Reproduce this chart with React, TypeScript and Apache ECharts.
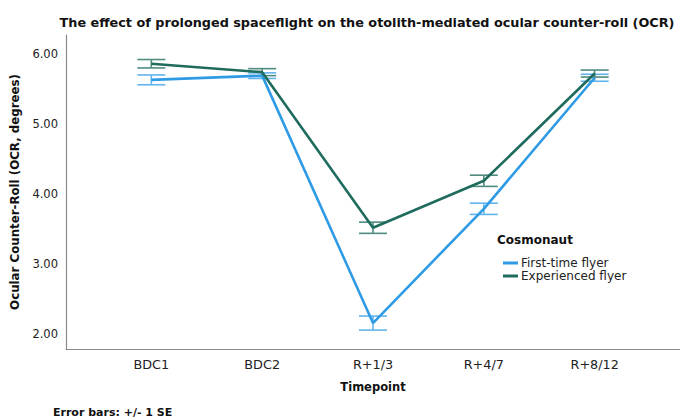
import React, { useEffect, useRef } from "react";
import * as echarts from "echarts";

const categories = ["BDC1", "BDC2", "R+1/3", "R+4/7", "R+8/12"];
const firstTimeMean = [5.63, 5.69, 2.16, 3.79, 5.66];
const firstTimeSE = [0.07, 0.04, 0.1, 0.08, 0.05];
const experiencedMean = [5.86, 5.74, 3.52, 4.19, 5.72];
const experiencedSE = [0.06, 0.05, 0.08, 0.08, 0.05];
const yTicks = [2, 3, 4, 5, 6];

const BLUE = "#2f9be4";
const GREEN = "#1f6b5d";
const BLUE_BAR = "#62b4ec";
const GREEN_BAR = "#4f8c80";
const FONT = "DejaVu Sans";

function errorSeries(name: string, mean: number[], se: number[], color: string) {
  return {
    type: "custom",
    name: name + " SE",
    z: 1,
    silent: true,
    renderItem: (params: any, api: any) => {
      const x = api.value(0);
      const lo = api.coord([x, api.value(1)]);
      const hi = api.coord([x, api.value(2)]);
      const w = 14;
      const style = { stroke: color, lineWidth: 1.6 };
      return {
        type: "group",
        children: [
          { type: "line", shape: { x1: lo[0], y1: lo[1], x2: hi[0], y2: hi[1] }, style },
          { type: "line", shape: { x1: lo[0] - w, y1: lo[1], x2: lo[0] + w, y2: lo[1] }, style },
          { type: "line", shape: { x1: hi[0] - w, y1: hi[1], x2: hi[0] + w, y2: hi[1] }, style },
        ],
      };
    },
    encode: { x: 0, y: [1, 2] },
    data: mean.map((m, i) => [i, m - se[i], m + se[i]]),
  };
}

export default function App() {
  const ref = useRef<HTMLDivElement>(null);
  useEffect(() => {
    const chart = echarts.init(ref.current!, null, { renderer: "svg" });
    chart.setOption({
      animation: false,
      backgroundColor: "#ffffff",
      textStyle: { fontFamily: FONT },
      title: {
        text: "The effect of prolonged spaceflight on the otolith-mediated ocular counter-roll (OCR)",
        left: 362,
        top: 11,
        textAlign: "center",
        textStyle: { fontFamily: FONT, fontSize: 12.8, fontWeight: "bold", color: "#111" },
      },
      grid: { left: 66, right: 0, top: 35, bottom: 70 },
      xAxis: {
        type: "value",
        min: -0.77,
        max: 4.77,
        name: "Timepoint",
        nameLocation: "middle",
        nameGap: 32,
        nameTextStyle: { fontFamily: FONT, fontSize: 11.5, fontWeight: "bold", color: "#111" },
        axisLine: { onZero: false, lineStyle: { color: "#8a8a8a", width: 1.2 } },
        axisTick: { show: false },
        splitLine: { show: false },
        axisLabel: {
          customValues: [0, 1, 2, 3, 4],
          formatter: (v: number) => categories[Math.round(v)] ?? "",
          fontFamily: FONT,
          fontSize: 12.8,
          color: "#222",
          margin: 9,
        },
      },
      yAxis: {
        type: "value",
        min: 1.79,
        max: 6.27,
        name: "Ocular Counter-Roll (OCR, degrees)",
        nameLocation: "middle",
        nameGap: 44,
        nameTextStyle: { fontFamily: FONT, fontSize: 11.8, fontWeight: "bold", color: "#111" },
        axisLine: { show: true, onZero: false, lineStyle: { color: "#8a8a8a", width: 1.2 } },
        axisTick: { show: false },
        splitLine: { show: false },
        axisLabel: {
          customValues: yTicks,
          formatter: (v: number) => v.toFixed(2),
          fontFamily: FONT,
          fontSize: 11.5,
          color: "#222",
          margin: 8,
        },
      },
      legend: {
        orient: "vertical",
        left: 498,
        top: 252,
        itemWidth: 15,
        itemHeight: 3,
        itemGap: 1,
        icon: "rect",
        data: ["First-time flyer", "Experienced flyer"],
        textStyle: { fontFamily: FONT, fontSize: 12, color: "#222", padding: [0, 0, 0, -2] },
      },
      graphic: [
        {
          type: "text",
          left: 497,
          top: 234,
          style: { text: "Cosmonaut", font: `bold 12px ${FONT}`, fill: "#111" },
        },
        {
          type: "text",
          left: 53,
          top: 407,
          style: { text: "Error bars: +/- 1 SE", font: `bold 11px ${FONT}`, fill: "#111" },
        },
      ],
      series: [
        errorSeries("First-time flyer", firstTimeMean, firstTimeSE, BLUE_BAR),
        errorSeries("Experienced flyer", experiencedMean, experiencedSE, GREEN_BAR),
        {
          type: "line",
          name: "First-time flyer",
          z: 3,
          symbol: "none",
          color: BLUE,
          lineStyle: { color: BLUE, width: 2.6 },
          data: firstTimeMean.map((v, i) => [i, v]),
        },
        {
          type: "line",
          name: "Experienced flyer",
          z: 4,
          symbol: "none",
          color: GREEN,
          lineStyle: { color: GREEN, width: 2.6 },
          data: experiencedMean.map((v, i) => [i, v]),
        },
      ],
    });
    return () => chart.dispose();
  }, []);
  return (
    <div
      ref={ref}
      style={{ position: "fixed", left: 0, top: 0, width: 680, height: 419, background: "#fff" }}
    />
  );
}
